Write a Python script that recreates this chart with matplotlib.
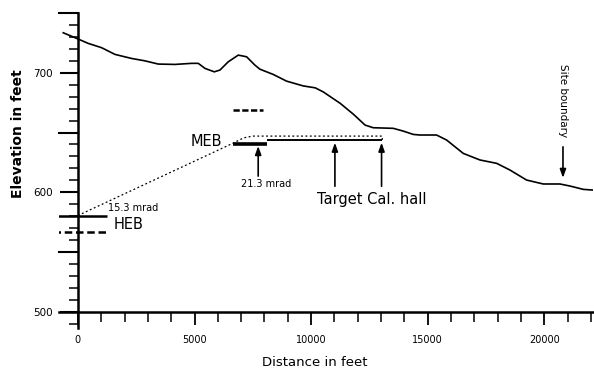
import matplotlib
matplotlib.use("Agg")
import matplotlib.pyplot as plt
import numpy as np
from matplotlib.ticker import MultipleLocator

plt.rcParams['font.family'] = ['DejaVu Sans']

# terrain profile (distance ft, elevation ft)
terrain_x = [-630, -56, 442, 1015, 1587, 2300, 2873, 3445, 4160, 4876, 5160,
             5446, 5846, 6090, 6446, 6875, 7233, 7590, 7805, 8376, 8948,
             9662, 10176, 10520, 11248, 11818, 12315, 12663, 13520, 13950,
             14380, 14665, 15380, 15810, 16525, 17240, 17955, 18525, 19240,
             19955, 20670, 21100, 21670, 22100]
terrain_y = [733.5, 728.8, 724.6, 721, 715.4, 712, 710, 707.3, 707, 707.9, 707.9,
             703.7, 700.8, 702.3, 709.2, 714.8, 713.4, 706.4, 703, 698.6, 693,
             689, 687.4, 684, 674.4, 665.2, 656.2, 654, 653.5, 651.2,
             648.4, 647.9, 647.9, 643.7, 632.5, 627, 624.2, 618.6, 610.2,
             606.9, 606.9, 605.2, 602.4, 601.8]

# beam lines
heb_x = [-1060, 1230]
heb_solid_y = 580.3
heb_dash_y = 567
meb_dash_x = [6650, 7950]
meb_dash_y = 668.8
meb_thick_x = [6650, 8100]
meb_thick_y = 640
hall_x = [8100, 13050]
hall_y = 643.6
dotted_x = [0, 6700, 7100, 7500, 13050, 13050]
dotted_y = [580.5, 641.5, 645.5, 647, 647, 643.6]

# arrows
mrad_arrow_x = 7730
target_arrows_x = [11020, 13020]
site_arrow_x = 20800

fig = plt.figure(figsize=(5.94, 3.71), dpi=100)
ax = fig.add_axes([0.0998, 0.1148, 0.899, 0.850])

ax.plot(terrain_x, terrain_y, color='black', lw=1.2, solid_joinstyle='round')

ax.plot(heb_x, [heb_solid_y, heb_solid_y], color='black', lw=1.8, solid_capstyle='butt')
ax.plot(heb_x, [heb_dash_y, heb_dash_y], color='black', lw=1.8, ls=(0, (3, 1.5)))
ax.plot(meb_dash_x, [meb_dash_y, meb_dash_y], color='black', lw=1.8, ls=(0, (2.5, 1)))
ax.plot(meb_thick_x, [meb_thick_y, meb_thick_y], color='black', lw=2.6, solid_capstyle='butt')
ax.plot(hall_x, [hall_y, hall_y], color='black', lw=1.4, solid_capstyle='butt')
ax.plot(dotted_x, dotted_y, color='black', lw=0.9, ls=(0, (1.5, 2)))

arrow_kw = dict(arrowstyle='-|>,head_length=0.5,head_width=0.18', color='black', lw=1.2,
                shrinkA=0, shrinkB=0)
ax.annotate('', xy=(mrad_arrow_x, 638.7), xytext=(mrad_arrow_x, 613.5), arrowprops=arrow_kw)
for tx in target_arrows_x:
    ax.annotate('', xy=(tx, 641.5), xytext=(tx, 605), arrowprops=arrow_kw)
ax.annotate('', xy=(site_arrow_x, 612), xytext=(site_arrow_x, 638), arrowprops=arrow_kw)

ax.text(6175, 642.8, 'MEB', fontsize=10.5, ha='right', va='center')
ax.text(1540, 572.6, 'HEB', fontsize=10.5, ha='left', va='center')
ax.text(1300, 586.8, '15.3 mrad', fontsize=7, ha='left', va='center')
ax.text(8060, 606.6, '21.3 mrad', fontsize=7, ha='center', va='center')
ax.text(12600, 594, 'Target Cal. hall', fontsize=10.5, ha='center', va='center')
ax.text(site_arrow_x, 677, 'Site boundary', fontsize=7.5, ha='center', va='center',
        rotation=-90)

ax.set_xlim(-800, 22100)
ax.set_ylim(486, 750)

for side in ['top', 'right']:
    ax.spines[side].set_visible(False)
ax.spines['left'].set_position(('data', 0))
ax.spines['bottom'].set_position(('data', 500))
ax.spines['left'].set_linewidth(1.8)
ax.spines['bottom'].set_linewidth(1.8)

ax.set_xticks([0, 5000, 10000, 15000, 20000])
ax.xaxis.set_minor_locator(MultipleLocator(1000))
ax.set_yticks([500, 600, 700])
ax.yaxis.set_minor_locator(MultipleLocator(10))

ax.tick_params(axis='x', which='major', direction='out', length=9, width=1.3,
               labelsize=7, pad=8)
ax.tick_params(axis='x', which='minor', direction='out', length=7, width=1.1)
ax.tick_params(axis='y', which='major', direction='out', length=13, width=1.5,
               labelsize=7.5, pad=5)
ax.tick_params(axis='y', which='minor', direction='out', length=6.5, width=1.1)

# longer ticks every 50 ft on the elevation axis
for yv in [550, 650, 750]:
    ax.plot([-800, 0], [yv, yv], color='black', lw=1.5, clip_on=False)

fig.text(0.53, 0.022, 'Distance in feet', fontsize=9.5, ha='center', va='center')
fig.text(0.031, 0.64, 'Elevation in feet', fontsize=10, fontweight='bold',
         ha='center', va='center', rotation=90)

fig.savefig('out.png', dpi=100)
